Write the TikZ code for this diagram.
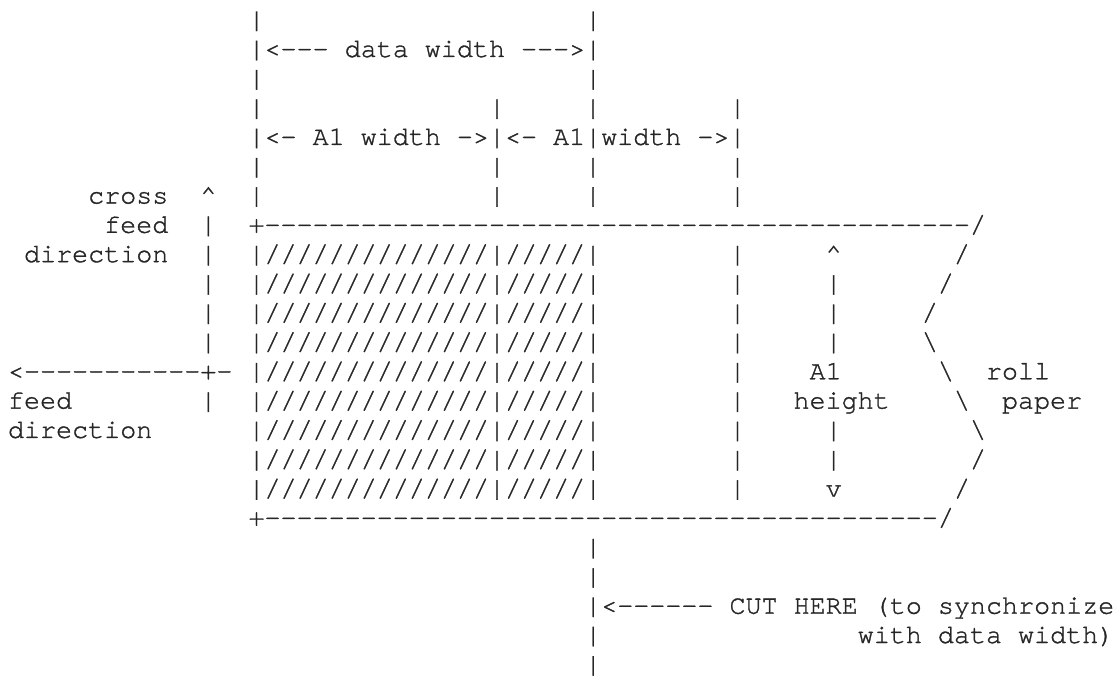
\documentclass[tikz,border=0pt]{standalone}
\usepackage{fontspec}
\newfontfamily\asciifont{TeX Gyre Cursor}[FakeBold=1.2]
\tikzset{
  asciirow/.style={anchor=base west, inner sep=0pt, outer sep=0pt,
    font=\asciifont\fontsize{26.72pt}{29.3pt}\selectfont, text=black!85}
}
\newcommand\arow[3]{\node[asciirow] (r#1) at ({8+16.034*#2},{-27.7-29.3*#1}) {#3};}
\begin{document}
\begin{tikzpicture}[x=1pt,y=1pt]
\useasboundingbox (0,0) rectangle (1117,-677);
\arow{0}{15}{|~~~~~~~~~~~~~~~~~~~~|}
\arow{1}{15}{|<---~data~width~--->|}
\arow{2}{15}{|~~~~~~~~~~~~~~~~~~~~|}
\arow{3}{15}{|~~~~~~~~~~~~~~|~~~~~|~~~~~~~~|}
\arow{4}{15}{|<-~A1~width~->|<-~A1|width~->|}
\arow{5}{15}{|~~~~~~~~~~~~~~|~~~~~|~~~~~~~~|}
\arow{6}{5}{cross~~\textasciicircum~~|~~~~~~~~~~~~~~|~~~~~|~~~~~~~~|}
\arow{7}{6}{feed~~|~~+--------------------------------------------/}
\arow{8}{1}{direction~~|~~|//////////////|/////|~~~~~~~~|~~~~~\textasciicircum~~~~~~~/}
\arow{9}{12}{|~~|//////////////|/////|~~~~~~~~|~~~~~|~~~~~~/}
\arow{10}{12}{|~~|//////////////|/////|~~~~~~~~|~~~~~|~~~~~/}
\arow{11}{12}{|~~|//////////////|/////|~~~~~~~~|~~~~~|~~~~~\textbackslash}
\arow{12}{0}{<-----------+-~|//////////////|/////|~~~~~~~~|~~~~A1~~~~~~\textbackslash~~roll}
\arow{13}{0}{feed~~~~~~~~|~~|//////////////|/////|~~~~~~~~|~~~height~~~~\textbackslash~~paper}
\arow{14}{0}{direction~~~~~~|//////////////|/////|~~~~~~~~|~~~~~|~~~~~~~~\textbackslash}
\arow{15}{15}{|//////////////|/////|~~~~~~~~|~~~~~|~~~~~~~~/}
\arow{16}{15}{|//////////////|/////|~~~~~~~~|~~~~~v~~~~~~~/}
\arow{17}{15}{+------------------------------------------/}
\arow{18}{36}{|}
\arow{19}{36}{|}
\arow{20}{36}{|<------~CUT~HERE~(to~synchronize}
\arow{21}{36}{|~~~~~~~~~~~~~~~~with~data~width)}
\arow{22}{36}{|}
\end{tikzpicture}
\end{document}
